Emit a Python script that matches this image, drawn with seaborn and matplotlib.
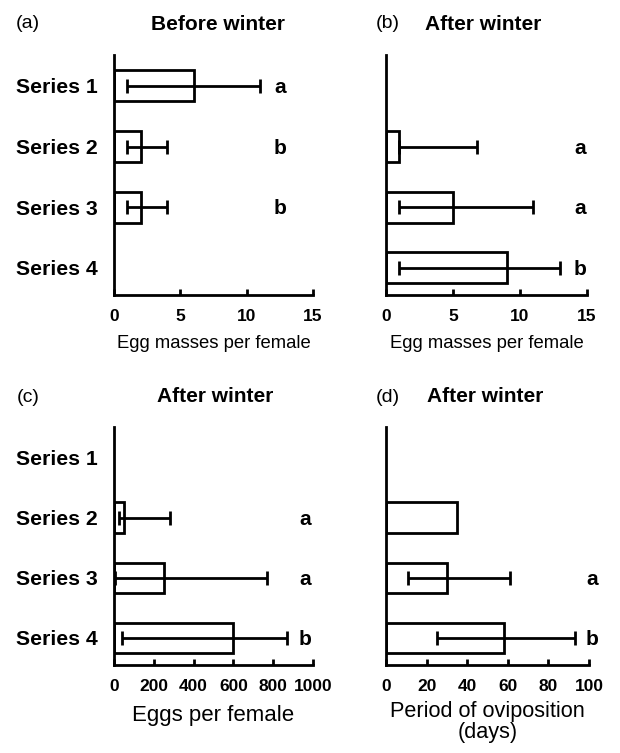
import numpy as np
import pandas as pd
import matplotlib
matplotlib.use('Agg')
import matplotlib.pyplot as plt
import seaborn as sns

series = ['Series 1', 'Series 2', 'Series 3', 'Series 4']

# (a) before winter - egg masses per female
a_val = [6, 2, 2, np.nan]
a_low = [1, 1, 1, np.nan]
a_high = [11, 4, 4, np.nan]
a_sig = ['a', 'b', 'b', '']

# (b) after winter - egg masses per female
b_val = [np.nan, 1, 5, 9]
b_low = [np.nan, 1, 1, 1]
b_high = [np.nan, 6.8, 11, 13]
b_sig = ['', 'a', 'a', 'b']

# (c) after winter - eggs per female
c_val = [np.nan, 50, 250, 600]
c_low = [np.nan, 25, 5, 40]
c_high = [np.nan, 280, 770, 870]
c_sig = ['', 'a', 'a', 'b']

# (d) after winter - period of oviposition
d_val = [np.nan, 35, 30, 58]
d_low = [np.nan, np.nan, 11, 25]
d_high = [np.nan, np.nan, 61, 93]
d_sig = ['', '', 'a', 'b']

sns.set_style('white')
plt.rcParams['font.family'] = ['Liberation Sans', 'DejaVu Sans']
for k in ('text.color', 'axes.labelcolor', 'xtick.color', 'ytick.color', 'axes.edgecolor'):
    plt.rcParams[k] = 'black'

LW = 2.0


def draw_panel(ax, vals, lows, highs, sigs, xmax, xticks, xlabel, sig_x,
               show_names=True, xlabel_size=14, labelpad=8):
    df = pd.DataFrame({'group': series, 'value': vals})
    sns.barplot(data=df, x='value', y='group', order=series, orient='h',
                color='white', saturation=1, edgecolor='black', linewidth=LW,
                width=0.51, errorbar=None, ax=ax)
    vals = np.array(vals, dtype=float)
    lows = np.array(lows, dtype=float)
    highs = np.array(highs, dtype=float)
    ax.errorbar(vals, np.arange(len(series)), xerr=[vals - lows, highs - vals],
                fmt='none', ecolor='black', elinewidth=LW, capsize=5, capthick=LW)
    for i, s in enumerate(sigs):
        if s:
            ax.text(sig_x, i + 0.03, s, ha='center', va='center', fontsize=15,
                    fontweight='bold', clip_on=False)
    ax.set_xlim(0, xmax)
    ax.set_ylim(3.45, -0.51)
    ax.set_xticks(xticks)
    ax.set_xticklabels([str(t) for t in xticks], fontweight='bold', fontsize=12.5)
    ax.tick_params(axis='x', direction='in', length=4.5, width=LW, pad=10, bottom=True)
    ax.tick_params(axis='y', length=0, pad=12)
    if show_names:
        ax.set_yticks(range(len(series)))
        ax.set_yticklabels(series, fontweight='bold', fontsize=15.3)
    else:
        ax.tick_params(axis='y', labelleft=False)
    ax.set_ylabel('')
    ax.set_xlabel(xlabel, fontsize=xlabel_size, labelpad=labelpad, linespacing=1.0)
    sns.despine(ax=ax)
    for sp in ('left', 'bottom'):
        ax.spines[sp].set_linewidth(LW)
        ax.spines[sp].set_color('black')


W, H = 620, 753
fig = plt.figure(figsize=(W / 100, H / 100), dpi=100)


def box(x0, x1, ytop, ybot):
    return [x0 / W, 1 - ybot / H, (x1 - x0) / W, (ybot - ytop) / H]


ax_a = fig.add_axes(box(114, 313, 55, 295))
ax_b = fig.add_axes(box(386, 587, 55, 295))
ax_c = fig.add_axes(box(114, 313, 427, 665))
ax_d = fig.add_axes(box(386, 589, 427, 665))

draw_panel(ax_a, a_val, a_low, a_high, a_sig, 15, [0, 5, 10, 15],
           'Egg masses per female', 12.5, xlabel_size=13.3)
draw_panel(ax_b, b_val, b_low, b_high, b_sig, 15, [0, 5, 10, 15],
           'Egg masses per female', 14.5, show_names=False, xlabel_size=13.3)
draw_panel(ax_c, c_val, c_low, c_high, c_sig, 1000, [0, 200, 400, 600, 800, 1000],
           'Eggs per female', 960, xlabel_size=16)
draw_panel(ax_d, d_val, d_low, d_high, d_sig, 100, [0, 20, 40, 60, 80, 100],
           'Period of oviposition\n(days)', 101.5, show_names=False,
           xlabel_size=15.6, labelpad=5)

titles = [('(a)', 28, 24, 'Before winter', 218, 'center'),
          ('(b)', 388, 24, 'After winter', 425, 'left'),
          ('(c)', 28, 397, 'After winter', 215, 'center'),
          ('(d)', 388, 397, 'After winter', 427, 'left')]
for tag, tx, ty, name, nx, ha in titles:
    fig.text(tx / W, 1 - ty / H, tag, ha='center', va='center', fontsize=14)
    fig.text(nx / W, 1 - ty / H, name, ha=ha, va='center', fontsize=15,
             fontweight='bold')

fig.savefig('out.png', dpi=100)
